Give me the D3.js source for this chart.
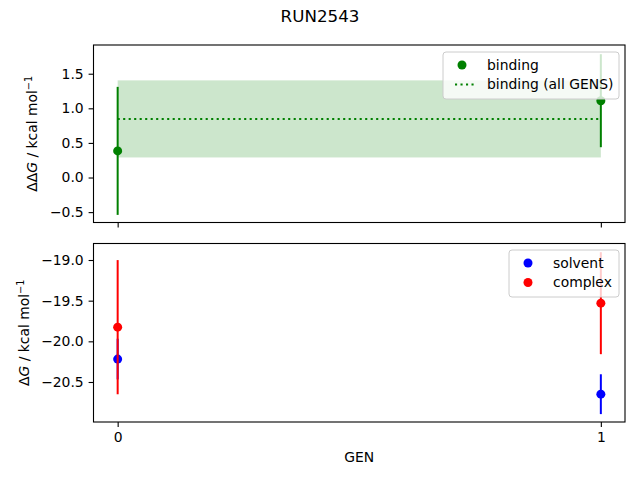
<!DOCTYPE html>
<html>
<head>
<meta charset="utf-8">
<script src="https://cdn.jsdelivr.net/npm/d3@7"></script>
<style>
  body { margin: 0; background: #fff; }
  svg { font-family: "DejaVu Sans", sans-serif; }
</style>
</head>
<body>
<svg id="chart" width="640" height="480"></svg>
<script>
const title = "RUN2543";
const gens = [0, 1];
const bindingVals = [0.385, 1.11];
const bindingErr = [0.925, 0.672];
const bindingMean = 0.847;
const bindingMeanErr = 0.557;
const solventVals = [-20.218, -20.65];
const solventErr = [0.25, 0.245];
const complexVals = [-19.826, -19.531];
const complexErr = [0.825, 0.627];
const topTicks = [-0.5, 0.0, 0.5, 1.0, 1.5];
const bottomTicks = [-20.5, -20.0, -19.5, -19.0];

const LEFT = 93.5, RIGHT = 625;
const TOP1 = 45, BOT1 = 222.5;
const TOP2 = 243.5, BOT2 = 422;
const TICK_FONT = 13.9;

const svg = d3.select("#chart");

const x = d3.scaleLinear().domain([-0.05, 1.05]).range([LEFT, RIGHT]);
const y1 = d3.scaleLinear().domain([-0.65, 1.915]).range([BOT1, TOP1]);
const y2 = d3.scaleLinear().domain([-20.992, -18.797]).range([BOT2, TOP2]);
const fmt = d3.format(".1f");

function styleAxis(g) {
	g.select(".domain").remove();
	g.selectAll(".tick line").attr("stroke", "#000").attr("stroke-width", 1.1);
	g.selectAll(".tick text").attr("fill", "#000").style("font-size", TICK_FONT + "px")
		.style("font-family", "DejaVu Sans");
}

function drawFrame(yTop, yBot) {
	svg.append("rect")
		.attr("x", LEFT).attr("y", yTop)
		.attr("width", RIGHT - LEFT).attr("height", yBot - yTop)
		.attr("fill", "none").attr("stroke", "#000").attr("stroke-width", 1.1);
}

// error bars then markers, one series at a time (so later series sit on top)
function errorSeries(g, vals, errs, yScale, color) {
	g.selectAll(null).data(gens).enter().append("line")
		.attr("x1", d => x(d)).attr("x2", d => x(d))
		.attr("y1", (d, i) => yScale(vals[i] - errs[i]))
		.attr("y2", (d, i) => yScale(vals[i] + errs[i]))
		.attr("stroke", color).attr("stroke-width", 2);
	g.selectAll(null).data(gens).enter().append("circle")
		.attr("cx", d => x(d))
		.attr("cy", (d, i) => yScale(vals[i]))
		.attr("r", 4.5)
		.attr("fill", color);
}

function yLabel(cx, cy, prefix) {
	const t = svg.append("text")
		.attr("transform", "translate(" + cx + "," + cy + ") rotate(-90)")
		.attr("text-anchor", "middle")
		.style("font-size", TICK_FONT + "px")
		.attr("fill", "#000");
	t.append("tspan").text(prefix);
	t.append("tspan").style("font-style", "italic").text("G");
	t.append("tspan").text(" / kcal mol");
	t.append("tspan").attr("baseline-shift", "super").style("font-size", "9.8px").text("\u22121");
}

function legend(right, yTop, width, items) {
	const g = svg.append("g");
	const h = 8 + items.length * 19.5;
	g.append("rect")
		.attr("x", right - width).attr("y", yTop)
		.attr("width", width).attr("height", h)
		.attr("rx", 3).attr("ry", 3)
		.attr("fill", "#fff").attr("fill-opacity", 0.8)
		.attr("stroke", "#cccccc").attr("stroke-width", 1);
	items.forEach(function(it, i) {
		const cy = yTop + 13 + i * 19.5;
		const sx = right - width + 12;
		if (it.type === "dot") {
			g.append("circle").attr("cx", sx + 7).attr("cy", cy).attr("r", 4.5).attr("fill", it.color);
		} else {
			g.append("line").attr("x1", sx).attr("x2", sx + 20).attr("y1", cy).attr("y2", cy)
				.attr("stroke", it.color).attr("stroke-width", 2)
				.attr("stroke-dasharray", "2.1,3.4");
		}
		g.append("text").attr("x", sx + 32).attr("y", cy).attr("dy", "0.35em")
			.style("font-size", TICK_FONT + "px").attr("fill", "#000").text(it.label);
	});
}

// Title
svg.append("text").attr("x", 320).attr("y", 22).attr("text-anchor", "middle")
	.style("font-size", "16.7px").attr("fill", "#000").text(title);

// ---- Top panel: binding ----
const topPanel = svg.append("g");
topPanel.append("rect")
	.attr("x", x(gens[0])).attr("width", x(gens[gens.length - 1]) - x(gens[0]))
	.attr("y", y1(bindingMean + bindingMeanErr))
	.attr("height", y1(bindingMean - bindingMeanErr) - y1(bindingMean + bindingMeanErr))
	.attr("fill", "green").attr("fill-opacity", 0.2);
topPanel.append("line")
	.attr("x1", x(gens[0])).attr("x2", x(gens[gens.length - 1]))
	.attr("y1", y1(bindingMean)).attr("y2", y1(bindingMean))
	.attr("stroke", "green").attr("stroke-width", 2).attr("stroke-dasharray", "2.1,3.4");
errorSeries(topPanel, bindingVals, bindingErr, y1, "green");
drawFrame(TOP1, BOT1);

svg.append("g").attr("transform", "translate(" + LEFT + ",0)")
	.call(d3.axisLeft(y1).tickValues(topTicks).tickFormat(fmt).tickSize(4.9).tickPadding(4.9))
	.call(styleAxis);
svg.append("g").attr("transform", "translate(0," + BOT1 + ")")
	.call(d3.axisBottom(x).tickValues(gens).tickFormat("").tickSize(4.9))
	.call(styleAxis);
yLabel(37, (TOP1 + BOT1) / 2, "\u0394\u0394");
legend(619, 52, 176, [
	{type: "dot", color: "green", label: "binding"},
	{type: "line", color: "green", label: "binding (all GENS)"}
]);

// ---- Bottom panel: solvent / complex ----
const botPanel = svg.append("g");
errorSeries(botPanel, solventVals, solventErr, y2, "blue");
errorSeries(botPanel, complexVals, complexErr, y2, "red");
drawFrame(TOP2, BOT2);

svg.append("g").attr("transform", "translate(" + LEFT + ",0)")
	.call(d3.axisLeft(y2).tickValues(bottomTicks).tickFormat(fmt).tickSize(4.9).tickPadding(4.9))
	.call(styleAxis);
svg.append("g").attr("transform", "translate(0," + BOT2 + ")")
	.call(d3.axisBottom(x).tickValues(gens).tickFormat(d3.format("d")).tickSize(4.9).tickPadding(4.9))
	.call(styleAxis);
yLabel(29, (TOP2 + BOT2) / 2, "\u0394");
legend(619, 250, 110, [
	{type: "dot", color: "blue", label: "solvent"},
	{type: "dot", color: "red", label: "complex"}
]);

svg.append("text").attr("x", (LEFT + RIGHT) / 2).attr("y", 462).attr("text-anchor", "middle")
	.style("font-size", TICK_FONT + "px").attr("fill", "#000").text("GEN");
</script>
</body>
</html>
